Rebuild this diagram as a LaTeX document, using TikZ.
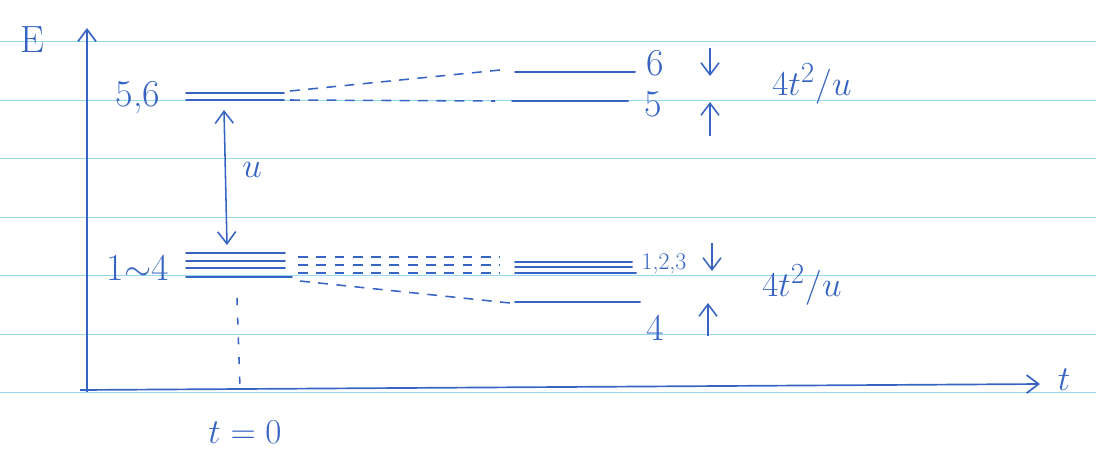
\documentclass[tikz,border=0pt]{standalone}
\usetikzlibrary{arrows.meta}
\definecolor{ink}{RGB}{55,100,195}
\definecolor{paperline}{RGB}{150,215,240}
\tikzset{
  >={Straight Barb[length=3mm,width=4.5mm]},
  level/.style={ink,line width=1.4pt,line cap=round},
  ghost/.style={ink,line width=1.1pt,dash pattern=on 7pt off 6pt},
  axis/.style={ink,line width=1.2pt,->},
  gap/.style={ink,line width=1.1pt,->},
  hand/.style={text=ink,font=\fontsize{27}{31}\selectfont,inner sep=0pt},
  small hand/.style={hand,font=\fontsize{17}{20}\selectfont},
  big hand/.style={hand,font=\fontsize{32}{36}\selectfont},
}
\begin{document}
\begin{tikzpicture}[x=0.025cm,y=-0.025cm]
  \useasboundingbox[fill=white] (0,0) rectangle (1096,450);
  % ruled paper
  \foreach \y in {41,100,158,217,275,334,392}
    \draw[paperline,line width=0.7pt] (0,\y) -- (1096,\y);
  % axes
  \coordinate (Ebase) at (87,392);
  \coordinate (Etop) at (87,28);
  \coordinate (tbase) at (80,390);
  \coordinate (tend) at (1040,384);
  \draw[axis] (Ebase) -- (Etop);
  \draw[axis] (tbase) -- (tend);
  \node[hand] (E) at (32,40) {E};
  \node[hand] (t) at (1064,380) {$t$};
  \node[hand] (t0) at (245,432) {$t=0$};
  % upper pair 5,6
  \node[hand] (lab56) at (138,98) {5,6};
  \draw[level] (186,93) -- (284,93);
  \draw[level] (186,100) -- (284,100);
  \draw[ghost] (290,91) -- (500,70);
  \draw[ghost] (290,100) -- (495,101);
  \draw[level] (515,72) -- (635,72);
  \draw[level] (512,101) -- (628,101);
  \node[hand] (lab6) at (655,63) {6};
  \node[hand] (lab5) at (653,104) {5};
  \draw[gap] (710,48) -- (710,76);
  \draw[gap] (710,136) -- (710,102);
  \node[big hand] (split56) at (812,84) {$4t^2/u$};
  % gap u
  \coordinate (uTop) at (224,110);
  \coordinate (uBot) at (227,245);
  \draw[gap,<->] (uTop) -- (uBot);
  \node[hand] (u) at (252,170) {$u$};
  % lower quartet 1~4
  \node[hand] (lab14) at (138,268) {1$\sim$4};
  \foreach \y in {253,261,268}
    \draw[level] (186,\y) -- (285,\y);
  \draw[level] (186,277) -- (292,277);
  \foreach \y in {257,265,273}
    \draw[ghost] (298,\y) -- (500,\y);
  \draw[ghost] (300,281) -- (510,303);
  \foreach \y in {262,267}
    \draw[level] (515,\y) -- (632,\y);
  \draw[level] (515,273) -- (636,273);
  \draw[level] (515,302) -- (640,302);
  \node[small hand] (lab123) at (664,264) {1,2,3};
  \node[hand] (lab4) at (655,328) {4};
  \draw[gap] (712,243) -- (712,271);
  \draw[gap] (708,336) -- (708,303);
  \node[big hand] (split14) at (802,285) {$4t^2/u$};
  % t = 0 marker
  \draw[ink,line width=1.1pt,dash pattern=on 5pt off 9pt] (237,298) -- (240,388);
\end{tikzpicture}
\end{document}
